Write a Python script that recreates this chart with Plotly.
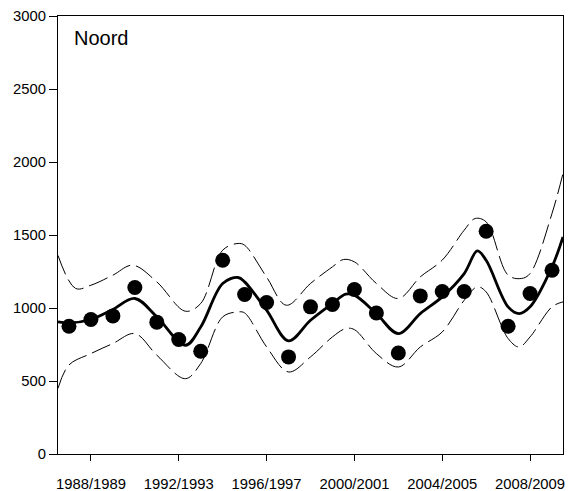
import plotly.graph_objects as go

# Observed values
years = list(range(1987, 2010))
observed = [875, 921, 946, 1140, 903, 784, 704, 1327, 1092, 1038, 665, 1008,
            1024, 1127, 966, 692, 1083, 1113, 1113, 1526, 875, 1099, 1259]

# Smoothed trend
fit_x = [1986.5, 1987, 1988, 1989, 1990, 1991, 1992.3, 1993, 1994, 1994.7, 1995,
         1996, 1997, 1998, 1999, 1999.6, 2000, 2001, 2002, 2003, 2004, 2005,
         2005.6, 2006, 2007, 2007.5, 2008, 2009, 2009.5]
fit_y = [905, 898, 921, 990, 1065, 940, 745, 870, 1168, 1209, 1179,
         985, 775, 916, 1031, 1095, 1088, 962, 825, 962, 1076, 1236,
         1391, 1327, 1008, 962, 1008, 1282, 1487]

# Upper confidence band
upper_x = [1986.5, 1987.3, 1988, 1989, 1989.9, 1991, 1992.3, 1993, 1994, 1994.7,
           1995, 1996, 1996.9, 1998, 1999, 1999.5, 2000, 2001, 2002, 2003, 2004,
           2005, 2005.5, 2006, 2007, 2007.6, 2008, 2009, 2009.5]
upper_y = [1360, 1134, 1156, 1225, 1293, 1179, 978, 1031, 1396, 1442,
           1430, 1212, 1019, 1168, 1282, 1332, 1316, 1168, 1065, 1213, 1328,
           1533, 1613, 1590, 1225, 1202, 1236, 1648, 1922]

# Lower confidence band
lower_x = [1986.5, 1987, 1988, 1989, 1990, 1991, 1992.3, 1993, 1994, 1994.7,
           1995, 1996, 1997, 1998, 1999, 1999.6, 2000, 2001, 2002, 2003, 2004,
           2005, 2005.6, 2006, 2007, 2007.5, 2008, 2009, 2009.5]
lower_y = [450, 610, 688, 757, 825, 677, 516, 620, 939, 973,
           966, 734, 562, 665, 802, 859, 852, 688, 596, 733, 836,
           1053, 1145, 1110, 791, 733, 802, 1008, 1042]

tick_vals = [1988, 1992, 1996, 2000, 2004, 2008]
tick_text = ["1988/1989", "1992/1993", "1996/1997", "2000/2001", "2004/2005", "2008/2009"]
y_ticks = [0, 500, 1000, 1500, 2000, 2500, 3000]

fig = go.Figure()
fig.add_trace(go.Scatter(x=upper_x, y=upper_y, mode="lines",
                         line=dict(color="black", width=1, dash="20px,6px", shape="spline", smoothing=1.0),
                         hoverinfo="skip"))
fig.add_trace(go.Scatter(x=lower_x, y=lower_y, mode="lines",
                         line=dict(color="black", width=1, dash="20px,6px", shape="spline", smoothing=1.0),
                         hoverinfo="skip"))
fig.add_trace(go.Scatter(x=fit_x, y=fit_y, mode="lines",
                         line=dict(color="black", width=2.8, shape="spline", smoothing=1.0)))
fig.add_trace(go.Scatter(x=years, y=observed, mode="markers",
                         marker=dict(color="black", size=15, line=dict(width=0))))

fig.add_annotation(text="Noord", xref="paper", yref="paper", x=0.027, y=0.949,
                   xanchor="left", yanchor="middle", showarrow=False,
                   font=dict(size=20, color="black"))

fig.update_layout(
    width=576, height=491,
    margin=dict(l=58, r=13, t=16, b=37),
    paper_bgcolor="white", plot_bgcolor="white",
    showlegend=False,
    font=dict(family="Liberation Sans, Arial, sans-serif", size=14.8, color="black"),
    xaxis=dict(range=[1986.5, 2009.5], tickvals=tick_vals, ticktext=tick_text,
               ticks="outside", ticklen=6, tickwidth=1, tickcolor="black",
               showline=True, linecolor="black", linewidth=1, mirror=True,
               showgrid=False, zeroline=False, ticklabelstandoff=10,
               automargin=False, tickfont=dict(size=14.8)),
    yaxis=dict(range=[0, 3000], tickvals=y_ticks,
               ticks="outside", ticklen=8, tickwidth=1, tickcolor="black",
               showline=True, linecolor="black", linewidth=1, mirror=True,
               showgrid=False, zeroline=False, automargin=False,
               tickfont=dict(size=14.8)),
)

fig.write_html("out.html", config={"displayModeBar": False})

# remove default page margins so the figure sits at the window origin
with open("out.html", "r", encoding="utf-8") as f:
    html = f.read()
html = html.replace("<head>", "<head><style>html,body{margin:0;padding:0;overflow:hidden;}</style>", 1)
with open("out.html", "w", encoding="utf-8") as f:
    f.write(html)
